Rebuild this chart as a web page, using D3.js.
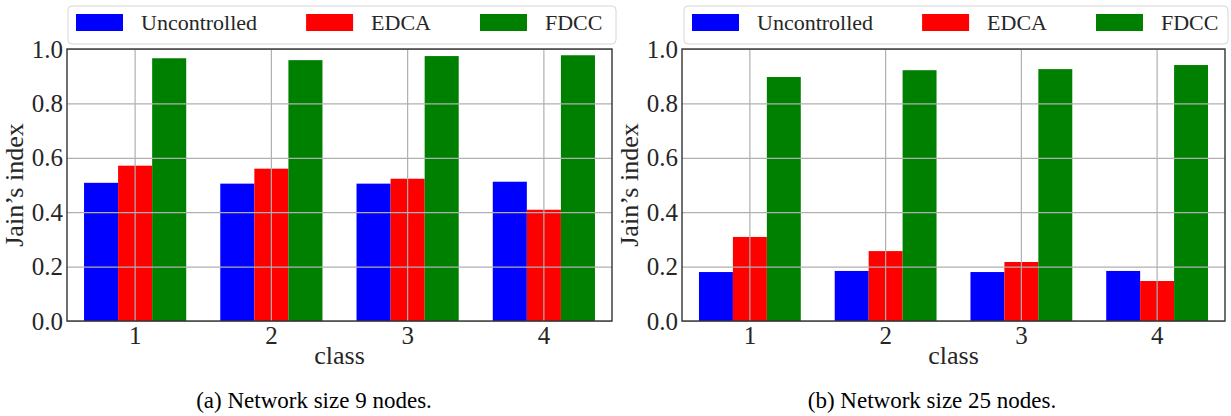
<!DOCTYPE html>
<html lang="en">
<head>
  <meta charset="UTF-8">
  <title>Jain's index by class</title>
  <script src="https://d3js.org/d3.v7.min.js"></script>
</head>
<body style="margin:0; background:#fff;">
  <div id="chart"></div>
  <script>
    // data
    const classes = ["1", "2", "3", "4"];
    const seriesNames = ["Uncontrolled", "EDCA", "FDCC"];
    const seriesColors = ["#0000ff", "#ff0000", "#008000"];
    const yTicks = [0, 0.2, 0.4, 0.6, 0.8, 1.0];

    const uncontrolled9 = [0.508, 0.505, 0.505, 0.512];
    const edca9 = [0.571, 0.560, 0.523, 0.409];
    const fdcc9 = [0.966, 0.959, 0.974, 0.977];

    const uncontrolled25 = [0.180, 0.184, 0.180, 0.184];
    const edca25 = [0.309, 0.257, 0.217, 0.147];
    const fdcc25 = [0.897, 0.922, 0.926, 0.941];

    const captions = ["(a) Network size 9 nodes.", "(b) Network size 25 nodes."];

    const FONT = `"Liberation Serif"`;
    const INK = "#262626";

    const W = 1231, H = 416;
    const svg = d3.select("#chart").append("svg")
      .attr("width", W)
      .attr("height", H);

    const panels = [
      { left: 67, right: 612, legLeft: 68, legRight: 616, captionX: 314,
        series: [uncontrolled9, edca9, fdcc9], caption: captions[0] },
      { left: 682, right: 1225, legLeft: 684, legRight: 1228, captionX: 932,
        series: [uncontrolled25, edca25, fdcc25], caption: captions[1] }
    ];
    const plotTop = 49, plotBottom = 321;

    function styleText(sel, size) {
      sel.attr("font-family", null)
        .style("font-family", FONT)
        .style("font-size", size + "px")
        .style("fill", INK);
    }

    panels.forEach(p => {
      const g = svg.append("g");

      const x = d3.scaleBand()
        .domain(classes)
        .range([p.left, p.right])
        .padding(0);

      const xs = d3.scaleBand()
        .domain(seriesNames)
        .range([0, x.bandwidth()])
        .paddingInner(0)
        .paddingOuter(0.5);

      const y = d3.scaleLinear()
        .domain([0, 1])
        .range([plotBottom, plotTop]);

      const color = d3.scaleOrdinal()
        .domain(seriesNames)
        .range(seriesColors);

      const rows = [];
      classes.forEach((c, i) => {
        seriesNames.forEach((s, j) => {
          rows.push({ cls: c, series: s, value: p.series[j][i] });
        });
      });

      g.selectAll("rect.bar")
        .data(rows)
        .enter()
        .append("rect")
        .attr("class", "bar")
        .attr("x", d => x(d.cls) + xs(d.series))
        .attr("y", d => y(d.value))
        .attr("width", xs.bandwidth())
        .attr("height", d => y(0) - y(d.value))
        .attr("fill", d => color(d.series));

      // grid on top of the bars
      const gridY = g.append("g")
        .attr("transform", `translate(${p.left},0)`)
        .call(d3.axisLeft(y).tickValues(yTicks).tickSize(-(p.right - p.left)).tickFormat(""));
      gridY.select(".domain").remove();
      gridY.selectAll("line").attr("stroke", "#b0b0b0").attr("stroke-width", 1.2);

      const gridX = g.append("g")
        .attr("transform", `translate(0,${plotTop})`)
        .call(d3.axisBottom(x).tickSize(plotBottom - plotTop).tickFormat(""));
      gridX.select(".domain").remove();
      gridX.selectAll("line").attr("stroke", "#b0b0b0").attr("stroke-width", 1.2);

      // frame
      g.append("rect")
        .attr("x", p.left)
        .attr("y", plotTop)
        .attr("width", p.right - p.left)
        .attr("height", plotBottom - plotTop)
        .attr("fill", "none")
        .attr("stroke", "#333")
        .attr("stroke-width", 1.4);

      // tick labels
      const yAxis = g.append("g")
        .attr("transform", `translate(${p.left},0)`)
        .call(d3.axisLeft(y).tickValues(yTicks).tickSize(0).tickPadding(4).tickFormat(d3.format(".1f")));
      yAxis.select(".domain").remove();
      yAxis.attr("font-family", null);
      styleText(yAxis.selectAll("text"), 25);

      const xAxis = g.append("g")
        .attr("transform", `translate(0,${plotBottom})`)
        .call(d3.axisBottom(x).tickSize(0).tickPadding(5));
      xAxis.select(".domain").remove();
      xAxis.attr("font-family", null);
      styleText(xAxis.selectAll("text"), 25);

      // axis titles
      styleText(g.append("text")
        .attr("x", (p.left + p.right) / 2)
        .attr("y", 364)
        .attr("text-anchor", "middle")
        .text("class"), 26);

      styleText(g.append("text")
        .attr("transform", `translate(${p.left - 44},${(plotTop + plotBottom) / 2}) rotate(-90)`)
        .attr("text-anchor", "middle")
        .text("Jain\u2019s index"), 26);

      // legend
      const leg = g.append("g");
      leg.append("rect")
        .attr("x", p.legLeft)
        .attr("y", 6)
        .attr("width", p.legRight - p.legLeft)
        .attr("height", 38)
        .attr("rx", 4)
        .attr("fill", "#fff")
        .attr("stroke", "#d6d6d6")
        .attr("stroke-width", 1);

      let cx = p.legLeft + 8;
      seriesNames.forEach(s => {
        leg.append("rect")
          .attr("x", cx)
          .attr("y", 14)
          .attr("width", 47)
          .attr("height", 17)
          .attr("fill", color(s));
        const t = leg.append("text")
          .attr("x", cx + 47 + 18)
          .attr("y", 30)
          .text(s);
        styleText(t, 22);
        cx += 47 + 18 + t.node().getComputedTextLength() + 49;
      });

      // caption
      const cap = g.append("text")
        .attr("x", p.captionX)
        .attr("y", 408)
        .attr("text-anchor", "middle")
        .text(p.caption);
      styleText(cap, 23);
      cap.style("fill", "#000");
    });
  </script>
</body>
</html>
